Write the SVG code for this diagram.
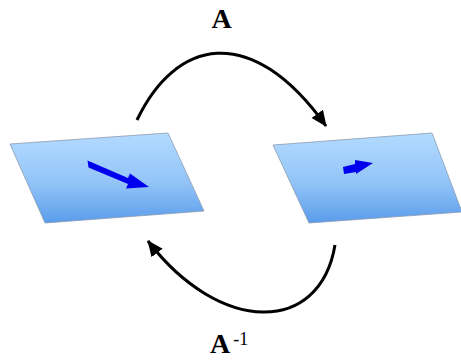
<svg xmlns="http://www.w3.org/2000/svg" width="461" height="360" viewBox="0 0 461 360">
<style>
.plane{stroke:#8a9bb0;stroke-width:0.8;fill:url(#g)}
.conn{fill:none;stroke:#000;stroke-width:3;marker-end:url(#ah)}
.lbl{font-family:"Liberation Serif",serif;font-weight:bold;fill:#000}
.vec{fill:#0000ee}
</style>
<defs>
<linearGradient id="g" x1="0" y1="0" x2="0" y2="1">
<stop offset="0" stop-color="#b3dbff"/>
<stop offset="0.55" stop-color="#93c4f8"/>
<stop offset="1" stop-color="#5a9ceb"/>
</linearGradient>
<marker id="ah" markerUnits="userSpaceOnUse" markerWidth="20" markerHeight="20" refX="15" refY="7" orient="auto">
<path d="M0,0 L16,7 L0,14 Z" fill="#000"/>
</marker>
</defs>
<g id="plane-left">
<polygon class="plane" points="10,144 168,133 204,211 45,223"/>
<polygon class="vec" points="87.5,160.5 128,178 130,173.5 149,187 126,188.5 128,184 88.5,167.5"/>
</g>
<g id="plane-right">
<polygon class="plane" points="273,145 432,133 462,212 309,223"/>
<polygon class="vec" points="343,167 355,164 355,160 373,163 356,174 356,172 344,174"/>
</g>
<g id="connectors">
<path class="conn" d="M137,120 C175,40 250,20 326,126"/>
<path class="conn" d="M335,245 C320,335 220,335 148,241"/>
</g>
<g id="labels">
<text class="lbl" x="221.5" y="28" font-size="28" text-anchor="middle">A</text>
<text class="lbl" x="210" y="353" font-size="28">A<tspan font-weight="normal" font-size="18" dx="3" dy="-8">-1</tspan></text>
</g>
</svg>
